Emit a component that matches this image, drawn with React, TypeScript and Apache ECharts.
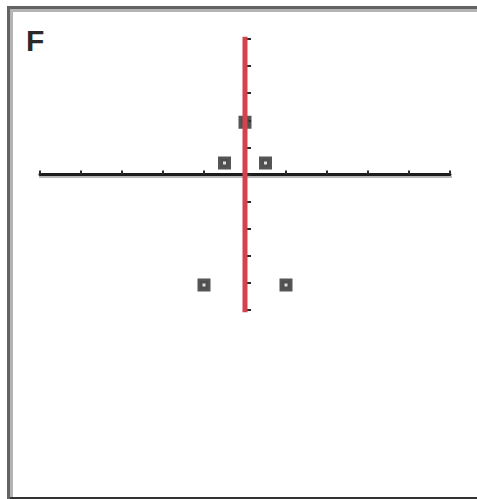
import React, { useEffect, useRef } from "react";
import * as echarts from "echarts";

// Window limits (both axes run from -5 to 5, one tick per unit)
const X_MIN = -5;
const X_MAX = 5;
const Y_MIN = -5;
const Y_MAX = 5;
const TICK_STEP = 1;

// Plotted points
const pointX = [-0.5, 0.5, 0, -1, 1];
const pointY = [0.5, 0.5, 2, -4, -4];

// Vertical segment x = 0 spanning the window
const segmentX = [0, 0];
const segmentY = [5, -5];

const screenLabel = "F";

export default function App() {
  const ref = useRef<HTMLDivElement>(null);

  useEffect(() => {
    if (!ref.current) return;
    const chart = echarts.init(ref.current, undefined, { renderer: "svg" });

    const points = pointX.map((x, i) => [x, pointY[i]]);
    const segment = segmentX.map((x, i) => [x, segmentY[i]]);

    const axisCommon = {
      type: "value" as const,
      interval: TICK_STEP,
      axisLabel: { show: false },
      splitLine: { show: false },
    };

    chart.setOption({
      animation: false,
      backgroundColor: "#ffffff",
      grid: { left: 40, right: 27, top: 39, bottom: 189, containLabel: false },
      xAxis: {
        ...axisCommon,
        min: X_MIN,
        max: X_MAX,
        axisLine: {
          show: true,
          onZero: true,
          lineStyle: { color: "#1c1c1c", width: 3 },
        },
        axisTick: {
          show: true,
          inside: true,
          length: 4,
          lineStyle: { color: "#2a2a2a", width: 2 },
        },
      },
      yAxis: {
        ...axisCommon,
        min: Y_MIN,
        max: Y_MAX,
        axisLine: {
          show: true,
          onZero: true,
          lineStyle: { color: "#1c1c1c", width: 2 },
        },
        axisTick: {
          show: true,
          inside: true,
          length: 6,
          lineStyle: { color: "#2a2a2a", width: 2 },
        },
      },
      series: [
        {
          type: "scatter",
          data: points,
          symbol: "rect",
          symbolSize: 8,
          symbolOffset: [0, 2],
          itemStyle: {
            color: "#d8d8d8",
            borderColor: "#2b2b2b",
            borderWidth: 5,
          },
          z: 2,
        },
        {
          type: "line",
          data: segment,
          symbol: "none",
          lineStyle: { color: "#d4424a", width: 5, cap: "square" },
          z: 3,
        },
      ],
      graphic: [
        // screen frame
        { type: "rect", shape: { x: 7, y: 6, width: 470, height: 3 }, style: { fill: "#636363" } },
        { type: "rect", shape: { x: 7, y: 6, width: 3, height: 493 }, style: { fill: "#636363" } },
        { type: "rect", shape: { x: 10, y: 9, width: 467, height: 3 }, style: { fill: "#b4b4b4" } },
        { type: "rect", shape: { x: 10, y: 9, width: 3, height: 488 }, style: { fill: "#b4b4b4" } },
        { type: "rect", shape: { x: 10, y: 497, width: 467, height: 2 }, style: { fill: "#333333" } },
        // gray shading under the horizontal axis
        { type: "rect", shape: { x: 39, y: 176, width: 413, height: 2 }, style: { fill: "#b8b8b8" }, z: -1 },
        // screen label
        {
          type: "text",
          left: 26,
          top: 25,
          style: {
            text: screenLabel,
            fill: "#2a2a2a",
            font: "bold 30px 'Liberation Sans', Arial, sans-serif",
            textShadowColor: "#3a7fd4",
            textShadowOffsetX: 2,
            textShadowBlur: 0,
          },
        },
      ],
    });

    return () => chart.dispose();
  }, []);

  return (
    <div
      ref={ref}
      style={{ position: "fixed", left: 0, top: 0, width: 477, height: 499 }}
    />
  );
}
